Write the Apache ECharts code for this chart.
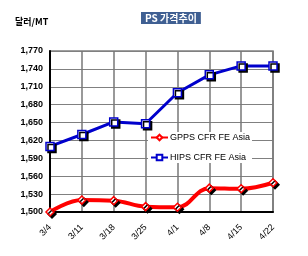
<!DOCTYPE html>
<html>
<head>
<meta charset="utf-8">
<script src="https://cdn.jsdelivr.net/npm/echarts@6/dist/echarts.min.js"></script>
<style>
html,body{margin:0;padding:0;background:#fff}
#main{width:308px;height:256px}
</style>
</head>
<body>
<div id="main"></div>
<script>
var dates = ['3/4', '3/11', '3/18', '3/25', '4/1', '4/8', '4/15', '4/22'];
var gpps = [1500, 1520, 1519, 1509, 1508, 1540, 1539, 1549];
var hips = [1610, 1630, 1651, 1648, 1700, 1730, 1745, 1745];
var yTicks = [1500, 1770, 30];

var myChart = echarts.init(document.getElementById('main'));
var fnt = 'Arial, "Liberation Sans", sans-serif';

var option = {
	backgroundColor: '#fff',
	animation: false,
	title: {
		text: 'PS 가격추이',
		left: 141,
		top: 12,
		padding: [1, 4, 1, 4],
		backgroundColor: '#3f5f92',
		textStyle: {color: '#fff', fontSize: 10, fontWeight: 'bold', fontFamily: '"Noto Sans CJK KR", sans-serif'}
	},
	graphic: [{
		type: 'text',
		left: 15,
		top: 17,
		style: {text: '달러/MT', fill: '#000', font: 'bold 9px "Noto Sans CJK KR", sans-serif'}
	}],
	legend: {
		orient: 'vertical',
		left: 148,
		top: 132,
		itemGap: 11,
		itemWidth: 17,
		itemHeight: 7,
		backgroundColor: '#fff',
		padding: [1, 2, 1, 2],
		textStyle: {fontSize: 9, fontFamily: fnt, color: '#000', padding: [0, 0, 0, -3]},
		data: ['GPPS CFR FE Asia', 'HIPS CFR FE Asia']
	},
	grid: {left: 50, right: 35, top: 51, bottom: 44, show: true, borderColor: '#808080', borderWidth: 1.5},
	xAxis: {
		type: 'category',
		data: dates,
		boundaryGap: false,
		axisLine: {lineStyle: {color: '#000', width: 2}},
		axisTick: {show: false},
		splitLine: {show: true, interval: 0, lineStyle: {color: '#777', width: 1.5}},
		axisLabel: {interval: 0, rotate: 45, fontSize: 9, color: '#000', fontFamily: fnt, margin: 14}
	},
	yAxis: {
		type: 'value',
		min: yTicks[0],
		max: yTicks[1],
		interval: yTicks[2],
		axisLine: {show: true, lineStyle: {color: '#000', width: 2}},
		axisTick: {show: false},
		splitLine: {lineStyle: {color: '#808080', width: 1}},
		axisLabel: {
			fontSize: 9, fontWeight: 'bold', color: '#000', fontFamily: fnt, margin: 7,
			formatter: function (v) { return echarts.format.addCommas(v); }
		}
	},
	series: [{
		name: 'GPPS CFR FE Asia',
		type: 'line',
		data: gpps,
		smooth: 0.4,
		symbol: 'diamond',
		symbolSize: 8,
		color: '#ff0000',
		lineStyle: {color: '#ff0000', width: 4},
		itemStyle: {color: '#fff', borderColor: '#ff0000', borderWidth: 1.5, shadowColor: '#000', shadowOffsetX: 2, shadowOffsetY: 2}
	}, {
		name: 'HIPS CFR FE Asia',
		type: 'line',
		data: hips,
		symbol: 'rect',
		symbolSize: 8,
		color: '#0000cc',
		lineStyle: {color: '#0000cc', width: 3},
		itemStyle: {color: '#fff', borderColor: '#0000cc', borderWidth: 1.5, shadowColor: '#000', shadowOffsetX: 2, shadowOffsetY: 2}
	}]
};
myChart.setOption(option);
</script>
</body>
</html>
